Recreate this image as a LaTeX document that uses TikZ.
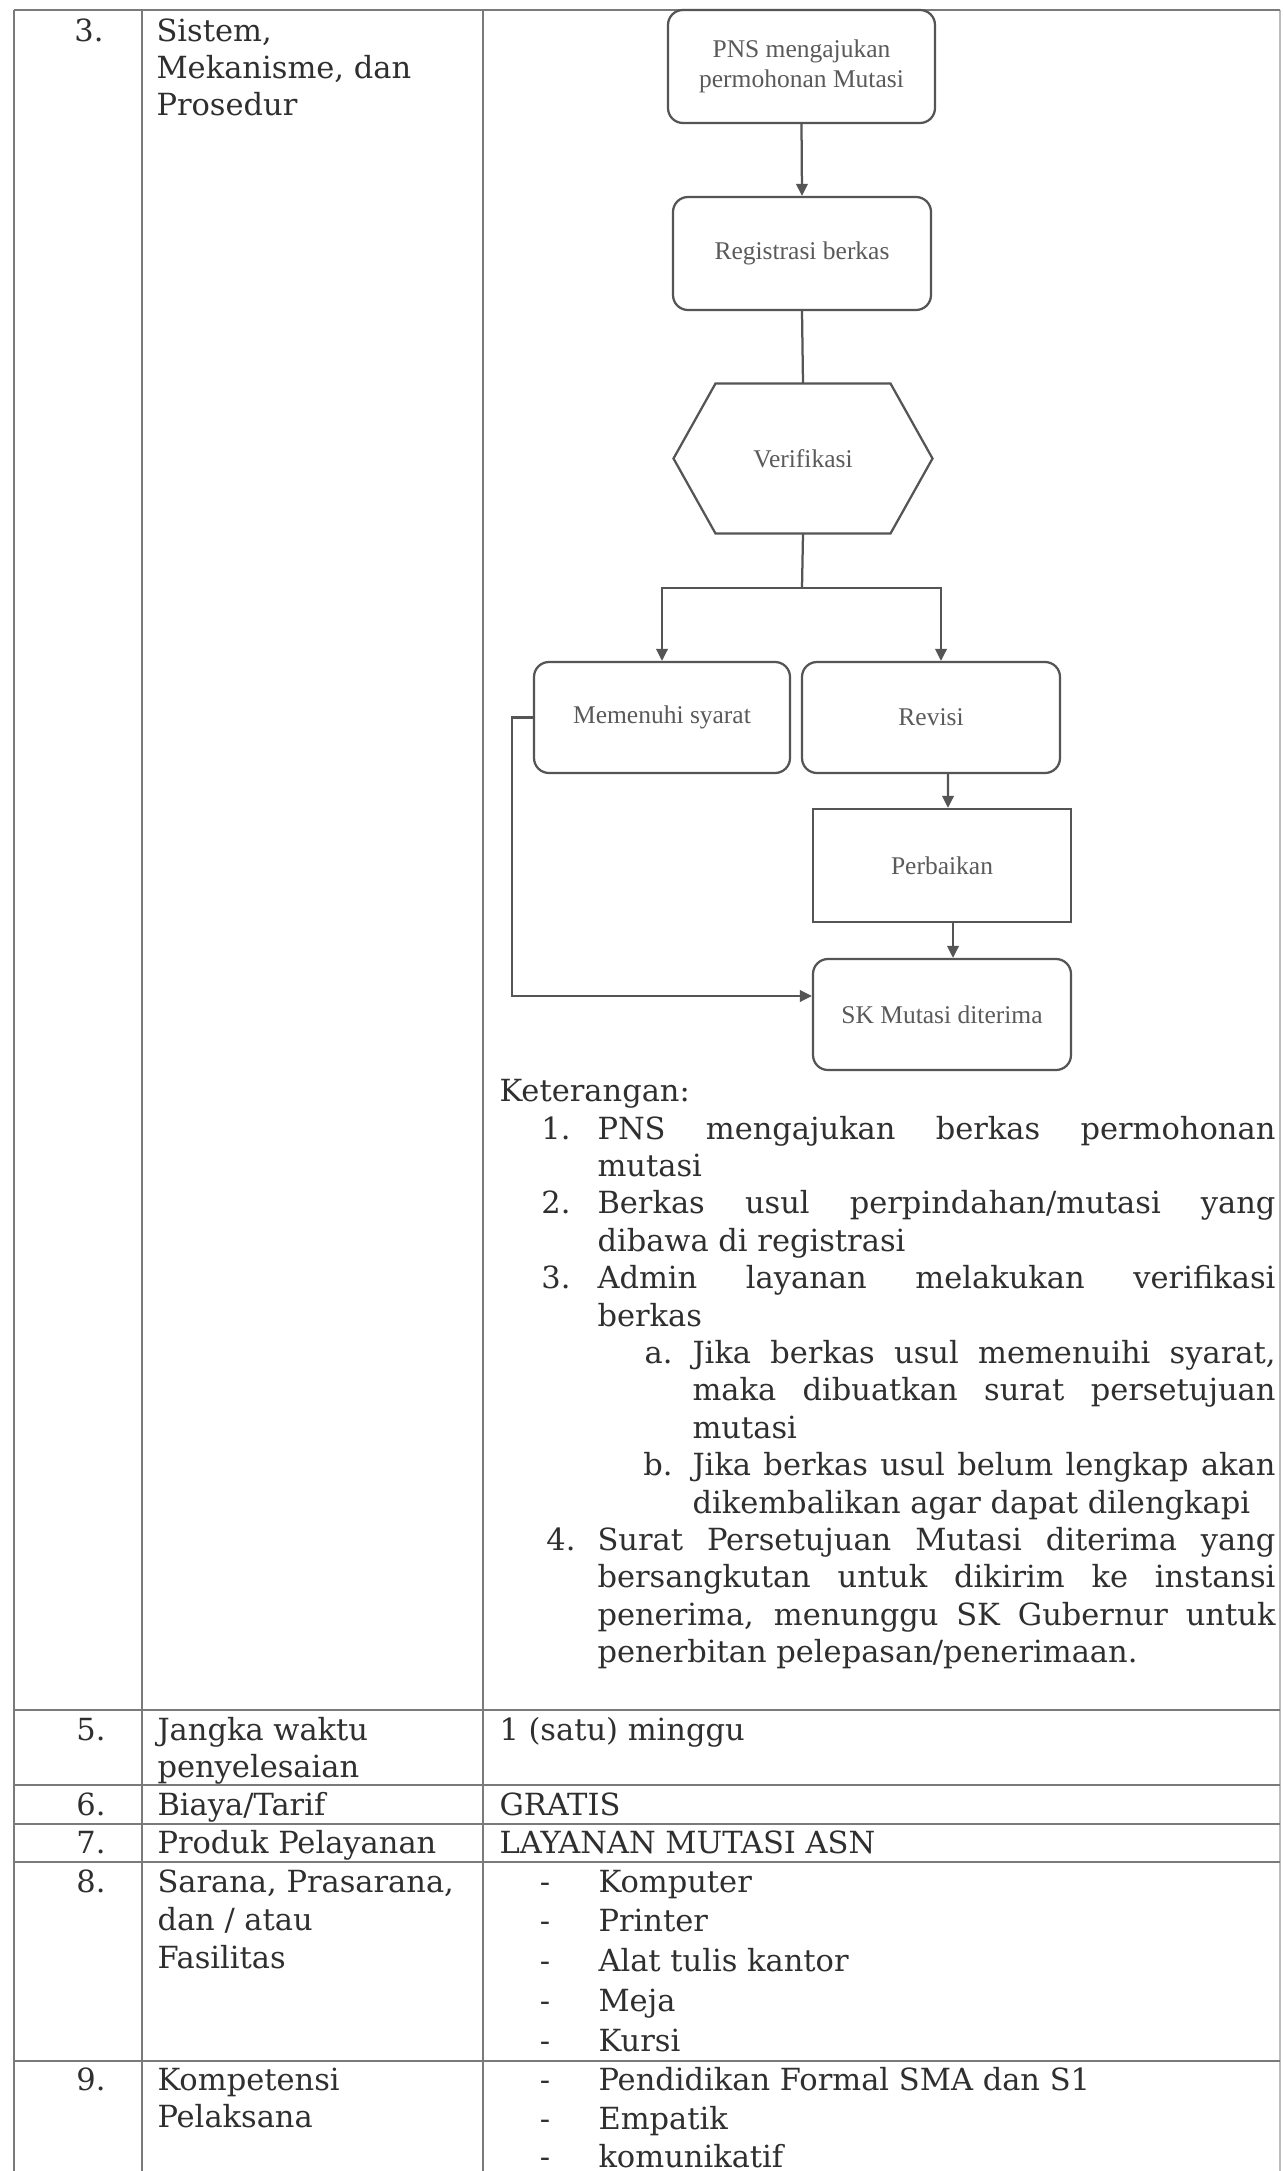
\documentclass[tikz,border=0pt]{standalone}
\usepackage{fontspec}
\setmainfont{DejaVu Serif}
\newfontfamily\flowfont{Liberation Serif}
\usetikzlibrary{arrows.meta,calc}
\definecolor{ink}{HTML}{2F2F2F}
\definecolor{rule}{HTML}{7A7A7A}
\definecolor{boxline}{HTML}{555555}
\definecolor{boxtext}{HTML}{5A5A5A}

\begin{document}
\begin{tikzpicture}[x=0.4pt,y=-0.4pt,
  txt/.style={anchor=base west,inner sep=0pt,text=ink,font=\fontsize{12.2}{14}\selectfont},
  num/.style={anchor=base east,inner sep=0pt,text=ink,font=\fontsize{12.2}{14}\selectfont},
  dashmark/.style={anchor=base,inner sep=0pt,text=ink,font=\fontsize{12.2}{14}\selectfont},
  grid/.style={draw=rule,line width=0.9pt},
  flowbox/.style={draw=boxline,line width=0.9pt,rounded corners=6pt,text=boxtext,
    font=\flowfont\fontsize{10.2}{11.8}\selectfont,align=center,inner sep=0pt},
  sharpbox/.style={flowbox,sharp corners},
  link/.style={draw=boxline,line width=0.9pt},
  arr/.style={link,-{Triangle[length=4.8pt,width=4.6pt]}}
]
\useasboundingbox (0,0) rectangle (1283,2171);
\fill[white] (0,0) rectangle (1283,2171);

% table rules
\draw[grid] (14,10) -- (1280,10);
\draw[grid] (14,10) -- (14,2171);
\draw[grid] (142,10) -- (142,2171);
\draw[grid] (483,10) -- (483,2171);
\draw[grid,draw opacity=0.5] (1280,10) -- (1280,2171);
\foreach \yy in {1710,1785,1824,1862,2061}
  \draw[grid] (14,\yy) -- (1280,\yy);

% row 3
\node[num] (n3) at (104,42) {3.};
\node[txt] (h3a) at (156,42) {Sistem,};
\node[txt] (h3b) at (156,79) {Mekanisme, dan};
\node[txt] (h3c) at (156,116) {Prosedur};

% flowchart
\node[flowbox,minimum width=106.8pt,minimum height=45.2pt] (pns) at (801.5,66.5)
  {PNS mengajukan\\permohonan Mutasi};
\node[flowbox,minimum width=103.2pt,minimum height=45.2pt] (reg) at (802,253.5)
  {Registrasi berkas};
\node[minimum width=103.2pt,minimum height=59.6pt,inner sep=0pt,text=boxtext,
  font=\flowfont\fontsize{10.2}{11.8}\selectfont] (hex) at (803,458.5) {Verifikasi};
\draw[link] (hex.west) -- ($(hex.north west)+(42,0)$) -- ($(hex.north east)+(-42,0)$)
  -- (hex.east) -- ($(hex.south east)+(-42,0)$) -- ($(hex.south west)+(42,0)$) -- cycle;
\node[flowbox,minimum width=102.4pt,minimum height=44.4pt] (mem) at (662,717.5)
  {Memenuhi syarat};
\node[flowbox,minimum width=103.2pt,minimum height=44.4pt] (rev) at (931,717.5)
  {Revisi};
\node[sharpbox,minimum width=103.2pt,minimum height=45.2pt] (perb) at (942,865.5)
  {Perbaikan};
\node[flowbox,minimum width=103.2pt,minimum height=44.4pt] (sk) at (942,1014.5)
  {SK Mutasi diterima};

\coordinate (split) at (802,588);
\draw[arr] (pns.south) -- (reg.north);
\draw[link] (reg.south) -- (hex.north);
\draw[link] (hex.south) -- (split);
\draw[arr] (split) -| (mem.north);
\draw[arr] (split) -| ([xshift=4pt]rev.north);
\draw[arr] ([xshift=6.8pt]rev.south) -- ([xshift=2.4pt]perb.north);
\draw[arr] ([xshift=4.4pt]perb.south) -- ([xshift=4.4pt]sk.north);
\draw[arr] (mem.west) -- ++(-21,0) |- ([yshift=7.4pt]sk.west);

% legend
\node[txt] (ket) at (499,1101) {Keterangan:};
\node[num] (k1n) at (571,1139) {1.};
\node[txt] (k1a) at (597,1139) {\makebox[271.2pt][s]{PNS mengajukan berkas permohonan}};
\node[txt] (k1b) at (597,1176.4) {mutasi};
\node[num] (k2n) at (571,1213.8) {2.};
\node[txt] (k2a) at (597,1213.8) {\makebox[271.2pt][s]{Berkas usul perpindahan/mutasi yang}};
\node[txt] (k2b) at (597,1251.2) {dibawa di registrasi};
\node[num] (k3n) at (571,1288.6) {3.};
\node[txt] (k3a) at (597,1288.6) {\makebox[271.2pt][s]{Admin layanan melakukan verifikasi}};
\node[txt] (k3b) at (597,1326) {berkas};
\node[num] (kan) at (673,1363.4) {a.};
\node[txt] (kaa) at (692,1363.4) {\makebox[233.2pt][s]{Jika berkas usul memenuihi syarat,}};
\node[txt] (kab) at (692,1400.8) {\makebox[233.2pt][s]{maka dibuatkan surat persetujuan}};
\node[txt] (kac) at (692,1438.2) {mutasi};
\node[num] (kbn) at (673,1475.6) {b.};
\node[txt] (kba) at (692,1475.6) {\makebox[233.2pt][s]{Jika berkas usul belum lengkap akan}};
\node[txt] (kbb) at (692,1513) {dikembalikan agar dapat dilengkapi};
\node[num] (k4n) at (576,1550.4) {4.};
\node[txt] (k4a) at (597,1550.4) {\makebox[271.2pt][s]{Surat Persetujuan Mutasi diterima yang}};
\node[txt] (k4b) at (597,1587.8) {\makebox[271.2pt][s]{bersangkutan untuk dikirim ke instansi}};
\node[txt] (k4c) at (597,1625.2) {\makebox[271.2pt][s]{penerima, menunggu SK Gubernur untuk}};
\node[txt] (k4d) at (597,1662.6) {penerbitan pelepasan/penerimaan.};

% row 5
\node[num] (n5) at (106,1740) {5.};
\node[txt] (h5a) at (157,1740) {Jangka waktu};
\node[txt] (h5b) at (157,1777) {penyelesaian};
\node[txt] (v5) at (499,1740) {1 (satu) minggu};
% row 6
\node[num] (n6) at (106,1815) {6.};
\node[txt] (h6) at (157,1815) {Biaya/Tarif};
\node[txt] (v6) at (499,1815) {GRATIS};
% row 7
\node[num] (n7) at (106,1853) {7.};
\node[txt] (h7) at (157,1853) {Produk Pelayanan};
\node[txt] (v7) at (499,1853) {LAYANAN MUTASI ASN};
% row 8
\node[num] (n8) at (106,1892) {8.};
\node[txt] (h8a) at (157,1892) {Sarana, Prasarana,};
\node[txt] (h8b) at (157,1930) {dan / atau};
\node[txt] (h8c) at (157,1968) {Fasilitas};
\foreach \yy/\item [count=\i] in {1892/Komputer,1931/Printer,1971/Alat tulis kantor,2011/Meja,2051/Kursi}{
  \node[dashmark] (d8\i) at (545,\yy) {-};
  \node[txt] (v8\i) at (598,\yy) {\item};
}
% row 9
\node[num] (n9) at (106,2090) {9.};
\node[txt] (h9a) at (157,2090) {Kompetensi};
\node[txt] (h9b) at (157,2127) {Pelaksana};
\foreach \yy/\item [count=\i] in {2090/Pendidikan Formal SMA dan S1,2129/Empatik,2167/komunikatif}{
  \node[dashmark] (d9\i) at (545,\yy) {-};
  \node[txt] (v9\i) at (598,\yy) {\item};
}
\end{tikzpicture}
\end{document}
